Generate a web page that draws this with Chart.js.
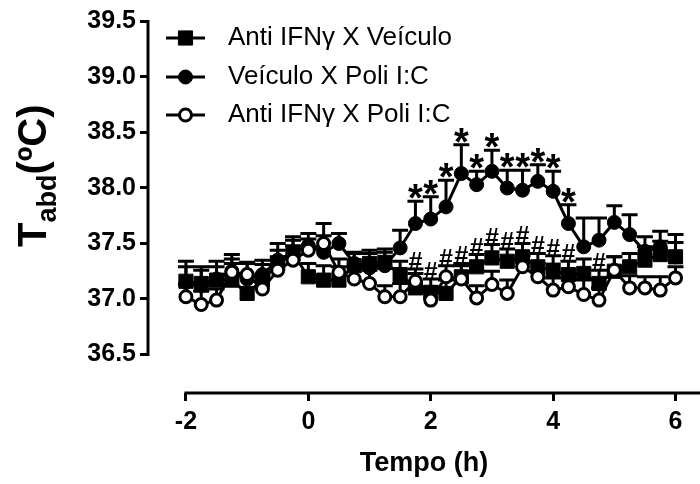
<!DOCTYPE html>
<html><head><meta charset="utf-8">
<script src="https://cdn.jsdelivr.net/npm/chart.js@4.4.1/dist/chart.umd.min.js"></script>
<style>html,body{margin:0;padding:0;background:#fff}canvas{display:block}</style>
</head><body>
<canvas id="c" width="700" height="484"></canvas>
<script>
const times = [-2,-1.75,-1.5,-1.25,-1,-0.75,-0.5,-0.25,0,0.25,0.5,0.75,1,1.25,1.5,1.75,2,2.25,2.5,2.75,3,3.25,3.5,3.75,4,4.25,4.5,4.75,5,5.25,5.5,5.75,6];
const antiVeh = [37.16,37.14,37.17,37.17,37.05,37.17,37.32,37.41,37.20,37.17,37.17,37.30,37.32,37.33,37.22,37.10,37.06,37.05,37.20,37.29,37.37,37.34,37.38,37.29,37.26,37.22,37.23,37.14,37.25,37.29,37.35,37.40,37.38];
const antiVehErr = [0.13,0.12,0.12,0.15,0.15,0.14,0.12,0.12,0.12,0.13,0.12,0.11,0.12,0.12,0.12,0.13,0.12,0.12,0.12,0.11,0.12,0.11,0.12,0.12,0.13,0.12,0.13,0.12,0.13,0.12,0.12,0.12,0.13];
const vehPoli = [37.15,37.12,37.18,37.25,37.18,37.22,37.35,37.42,37.48,37.42,37.50,37.32,37.28,37.30,37.46,37.68,37.72,37.83,38.13,38.03,38.15,38.00,37.98,38.06,37.97,37.68,37.47,37.53,37.69,37.58,37.43,37.47,37.38];
const vehPoliErr = [0.19,0.17,0.16,0.15,0.14,0.13,0.15,0.14,0.11,0.15,0.09,0.10,0.13,0.12,0.16,0.20,0.20,0.24,0.26,0.12,0.19,0.16,0.18,0.15,0.18,0.17,0.26,0.20,0.15,0.18,0.13,0.14,0.20];
const antiPoli = [37.02,36.95,36.99,37.24,37.22,37.09,37.26,37.35,37.44,37.50,37.24,37.18,37.14,37.02,37.02,37.16,36.99,37.20,37.18,37.01,37.13,37.05,37.29,37.20,37.08,37.11,37.04,36.99,37.26,37.10,37.10,37.08,37.19];
const antiPoliErr = [0.11,0.12,0.10,0.12,0.11,0.13,0.12,0.13,0.10,0.18,0.12,0.11,0.12,0.10,0.12,0.11,0.12,0.10,0.12,0.11,0.12,0.12,0.10,0.12,0.11,0.12,0.13,0.11,0.12,0.11,0.10,0.12,0.10];
const yTicks = [36.5,37.0,37.5,38.0,38.5,39.0,39.5];
const xTicks = [-2,0,2,4,6];
const seriesNames = ['Anti IFN\u03b3 X Ve\u00edculo','Ve\u00edculo X Poli I:C','Anti IFN\u03b3 X Poli I:C'];
const starTimes = [1.75,2,2.25,2.5,2.75,3,3.25,3.5,3.75,4,4.25];
const hashTimes = [1.75,2,2.25,2.5,2.75,3,3.25,3.5,3.75,4,4.25,4.75];
const xTitle = 'Tempo (h)';

const FONT = "Arial, 'Liberation Sans', sans-serif";
const errs = [antiVehErr, vehPoliErr, antiPoliErr];
const pts = arr => times.map((t,i)=>({x:t,y:arr[i]}));

const styles = [
  {pointStyle:'rect', pointRadius:10, pointBackgroundColor:'#000', pointBorderColor:'#000', pointBorderWidth:1},
  {pointStyle:'circle', pointRadius:7, pointBackgroundColor:'#000', pointBorderColor:'#000', pointBorderWidth:1},
  {pointStyle:'circle', pointRadius:6, pointBackgroundColor:'#fff', pointBorderColor:'#000', pointBorderWidth:3}
];
const seriesData = [antiVeh, vehPoli, antiPoli];
const orders = [3,2,1];

const datasets = seriesData.map((arr,k)=>Object.assign({
  label: seriesNames[k], data: pts(arr), borderColor:'#000', borderWidth:3,
  backgroundColor:'#000', showLine:true, tension:0, fill:false, order:orders[k],
  pointHoverRadius: styles[k].pointRadius
}, styles[k]));

function drawMarker(ctx, k, x, y){
  const s = styles[k];
  Chart.helpers.drawPoint(ctx, {pointStyle:s.pointStyle, radius:s.pointRadius, rotation:0, borderWidth:s.pointBorderWidth}, x, y);
}

const errPlugin = {
  id:'errbars',
  beforeDatasetDraw(chart, args){
    const k = args.index, e = errs[k], ys = chart.scales.y, ctx = chart.ctx;
    ctx.save(); ctx.strokeStyle='#000'; ctx.lineWidth=3; ctx.lineCap='butt';
    args.meta.data.forEach((p,i)=>{
      const top = ys.getPixelForValue(seriesData[k][i] + e[i]);
      ctx.beginPath(); ctx.moveTo(p.x, p.y); ctx.lineTo(p.x, top);
      ctx.moveTo(p.x-8, top); ctx.lineTo(p.x+8, top); ctx.stroke();
    });
    ctx.restore();
  }
};

const axesPlugin = {
  id:'axeslines',
  beforeDatasetsDraw(chart){
    const {ctx, chartArea:a, scales:{x, y}} = chart;
    ctx.save(); ctx.strokeStyle='#000'; ctx.lineWidth=3;
    ctx.beginPath();
    ctx.moveTo(a.left, y.getPixelForValue(yTicks[yTicks.length-1])-1.5);
    ctx.lineTo(a.left, y.getPixelForValue(yTicks[0])+1.5);
    ctx.moveTo(x.getPixelForValue(xTicks[0])-1.5, a.bottom);
    ctx.lineTo(a.right, a.bottom);
    ctx.stroke();
    ctx.restore();
  }
};

const annoPlugin = {
  id:'anno',
  afterDraw(chart){
    const {ctx, scales:{x, y}} = chart;
    ctx.save();
    ctx.fillStyle='#000';
    // stars
    ctx.font = 'bold 38px ' + FONT; ctx.textAlign='center'; ctx.textBaseline='alphabetic';
    starTimes.forEach(t=>{
      const i = times.indexOf(t);
      const cap = y.getPixelForValue(vehPoli[i]+vehPoliErr[i]);
      ctx.fillText('*', x.getPixelForValue(t), cap - 12 + 22);
    });
    // hashes
    ctx.font = 'bold 25px ' + FONT;
    hashTimes.forEach(t=>{
      const i = times.indexOf(t);
      const cap = Math.min(y.getPixelForValue(antiVeh[i]+antiVehErr[i]), y.getPixelForValue(antiPoli[i]+antiPoliErr[i]));
      ctx.fillText('#', x.getPixelForValue(t), cap - 8 + 9);
    });
    // legend
    const rows = [38, 77, 115];
    rows.forEach((ry,k)=>{
      ctx.strokeStyle='#000'; ctx.lineWidth=3;
      ctx.beginPath(); ctx.moveTo(166, ry); ctx.lineTo(205, ry); ctx.stroke();
      ctx.fillStyle = styles[k].pointBackgroundColor; ctx.strokeStyle='#000'; ctx.lineWidth = styles[k].pointBorderWidth;
      drawMarker(ctx, k, 185.5, ry);
      ctx.fillStyle='#000';
      ctx.font = '26px ' + FONT; ctx.textAlign='left'; ctx.textBaseline='middle';
      ctx.fillText(seriesNames[k], 228, ry);
    });
    // y title
    ctx.save();
    ctx.translate(46, 247); ctx.rotate(-Math.PI/2);
    ctx.textAlign='left'; ctx.textBaseline='alphabetic';
    ctx.font = 'bold 40px ' + FONT;
    ctx.fillText('T', 0, 0);
    let w = ctx.measureText('T').width;
    ctx.font = 'bold 27px ' + FONT;
    ctx.fillText('abd', w, 10);
    w += ctx.measureText('abd').width;
    ctx.font = 'bold 40px ' + FONT;
    ctx.fillText('(\u00baC)', w, 0);
    ctx.restore();
    ctx.restore();
  }
};

new Chart(document.getElementById('c'), {
  type:'line',
  data:{datasets},
  options:{
    responsive:false, devicePixelRatio:1, animation:false,
    layout:{autoPadding:false, padding:{top:21.5, left:0, right:0, bottom:0}},
    plugins:{legend:{display:false}, tooltip:{enabled:false}},
    scales:{
      x:{type:'linear', min:-2.62, max:6.4,
        afterBuildTicks(s){ s.ticks = xTicks.map(v=>({value:v})); },
        afterFit(s){ s.height = 91; s.paddingLeft = 0; s.paddingRight = 0; },
        border:{display:false},
        grid:{display:true, drawOnChartArea:false, drawTicks:true, tickLength:8, lineWidth:3, color:'#000'},
        ticks:{color:'#000', padding:6, maxRotation:0, font:{family:FONT, size:25, weight:'bold'}, callback:v=>String(v)},
        title:{display:true, text:xTitle, color:'#000', font:{family:FONT, size:27, weight:'bold'}, padding:{top:0, bottom:4}}
      },
      y:{type:'linear', min:36.153, max:39.5,
        afterBuildTicks(s){ s.ticks = yTicks.map(v=>({value:v})); },
        afterFit(s){ s.width = 148; s.paddingTop = 0; s.paddingBottom = 0; },
        border:{display:false},
        grid:{display:true, drawOnChartArea:false, drawTicks:true, tickLength:8, lineWidth:3, color:'#000'},
        ticks:{color:'#000', padding:4, font:{family:FONT, size:25, weight:'bold'}, callback:v=>Number(v).toFixed(1)}
      }
    }
  },
  plugins:[errPlugin, axesPlugin, annoPlugin]
});
</script>
</body></html>
